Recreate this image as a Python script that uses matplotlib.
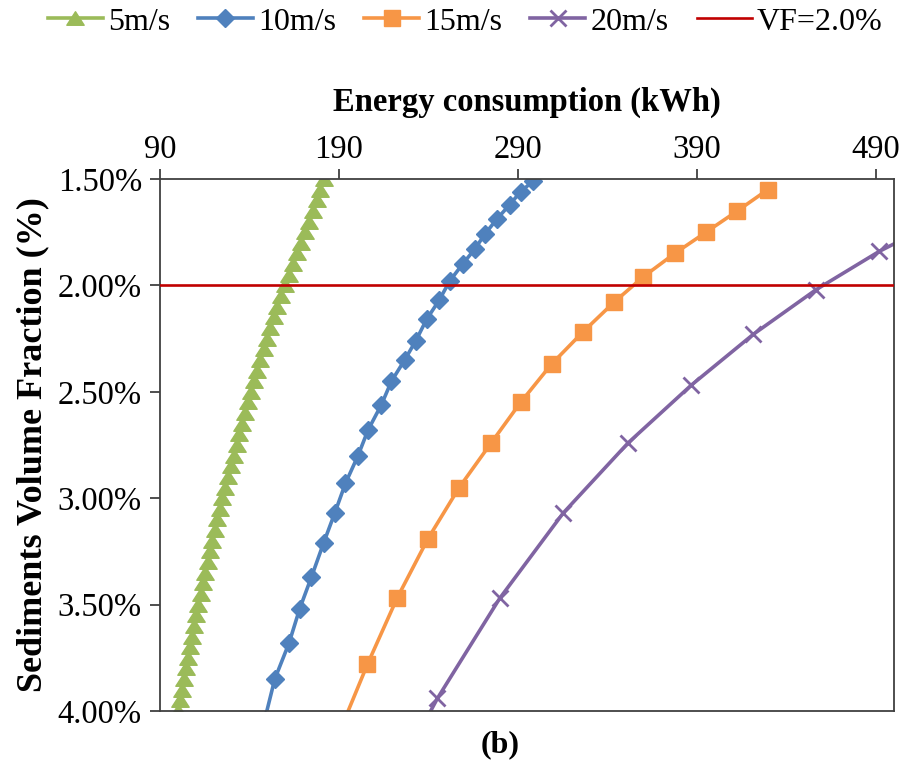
import matplotlib
matplotlib.use('Agg')
import matplotlib.pyplot as plt
from matplotlib.path import Path
from matplotlib.ticker import FuncFormatter

plt.rcParams['font.family'] = ['Liberation Serif', 'DejaVu Serif']

# Sediments volume fraction (%) and energy consumption (kWh)
vf_5 = [1.50, 1.55, 1.60, 1.65, 1.70, 1.75, 1.80, 1.85, 1.90, 1.95,
        2.00, 2.05, 2.10, 2.15, 2.20, 2.25, 2.30, 2.35, 2.40, 2.45,
        2.50, 2.55, 2.60, 2.65, 2.70, 2.75, 2.80, 2.85, 2.90, 2.95,
        3.00, 3.05, 3.10, 3.15, 3.20, 3.25, 3.30, 3.35, 3.40, 3.45,
        3.50, 3.55, 3.60, 3.65, 3.70, 3.75, 3.80, 3.85, 3.90, 3.95, 4.00]
e_5 = [181.5, 179.5, 177.5, 175.3, 173.1, 170.9, 168.6, 166.4, 164.1, 161.8,
       159.6, 157.6, 155.6, 153.6, 151.7, 149.8, 147.9, 146.1, 144.3, 142.6,
       140.9, 139.2, 137.6, 136.0, 134.4, 132.8, 131.2, 129.6, 128.0, 126.4,
       124.9, 123.5, 122.1, 120.7, 119.3, 118.0, 116.6, 115.3, 114.0, 112.7,
       111.4, 110.2, 109.0, 107.8, 106.6, 105.5, 104.4, 103.3, 102.3, 101.3, 100.3]

vf_10 = [1.51, 1.56, 1.62, 1.69, 1.76, 1.83, 1.90, 1.98, 2.07, 2.16, 2.26, 2.35,
         2.45, 2.56, 2.68, 2.80, 2.93, 3.07, 3.21, 3.37, 3.52, 3.68, 3.85, 4.04]
e_10 = [298.4, 291.4, 285.4, 278.0, 271.4, 265.8, 259.0, 251.8, 245.9, 238.9, 232.9, 226.7,
        219.3, 213.7, 206.2, 200.6, 193.6, 187.6, 181.4, 174.6, 168.0, 162.1, 154.1, 148.5]

vf_15 = [1.55, 1.65, 1.75, 1.85, 1.96, 2.08, 2.22, 2.37, 2.55, 2.74, 2.95, 3.19, 3.47, 3.78, 4.13]
e_15 = [429.5, 412.5, 395.0, 377.5, 359.9, 343.5, 326.1, 308.7, 291.4, 275.0, 257.1, 239.7, 222.4, 205.9, 188.7]

vf_20 = [1.69, 1.84, 2.02, 2.23, 2.47, 2.74, 3.07, 3.47, 3.94, 4.49]
e_20 = [527.0, 491.8, 456.5, 421.4, 386.6, 351.5, 315.2, 279.8, 245.0, 210.0]

vf_limit = 2.0

x_ticks = [90, 190, 290, 390, 490]
y_ticks = [1.5, 2.0, 2.5, 3.0, 3.5, 4.0]

green = '#9BBB59'
blue = '#4F81BD'
orange = '#F79646'
purple = '#8064A2'
red = '#C00000'

# wide, flat triangle like the Excel marker
tri = Path([(-1, -0.78), (1, -0.78), (0, 0.78), (-1, -0.78)],
           [Path.MOVETO, Path.LINETO, Path.LINETO, Path.CLOSEPOLY])

fig = plt.figure(figsize=(9.03, 7.62), dpi=100)
ax = fig.add_axes([0.1772, 0.0669, 0.8128, 0.6982])

ax.plot(e_5, vf_5, color=green, lw=2.6, marker=tri, ms=12.5, mfc=green, mec=green, label='5m/s')
ax.plot(e_10, vf_10, color=blue, lw=2.6, marker='D', ms=9.3, mfc=blue, mec=blue, label='10m/s')
ax.plot(e_15, vf_15, color=orange, lw=2.6, marker='s', ms=11, mfc=orange, mec=orange, label='15m/s')
ax.plot(e_20, vf_20, color=purple, lw=2.6, marker='x', ms=12, mew=2, label='20m/s')
ax.axhline(vf_limit, color=red, lw=1.9, label='VF=2.0%', zorder=5)

ax.set_xlim(90, 500)
ax.set_ylim(4.0, 1.5)
ax.set_xticks(x_ticks)
ax.set_yticks(y_ticks)
ax.yaxis.set_major_formatter(FuncFormatter(lambda v, p: '{:.2f}%'.format(v)))

ax.xaxis.tick_top()
ax.xaxis.set_label_position('top')
ax.tick_params(axis='x', which='major', direction='out', length=7, width=1.3,
               color='#404040', labelsize=23.5, pad=3)
ax.tick_params(axis='y', which='major', direction='out', length=7, width=1.3,
               color='#404040', labelsize=23.5, pad=6)
for s in ax.spines.values():
    s.set_color('#404040')
    s.set_linewidth(1.3)

ax.set_xlabel('Energy consumption (kWh)', fontsize=23.5, fontweight='bold', labelpad=17)
ax.set_ylabel('Sediments Volume Fraction (%)', fontsize=26, fontweight='bold', labelpad=6)

fig.legend(loc='center', bbox_to_anchor=(0.515, 1 - 22 / 762), ncol=5, frameon=False,
           borderaxespad=0, fontsize=23, handlelength=1.72, handletextpad=0.16,
           columnspacing=0.88)

fig.text(500 / 903, 1 - 745 / 762, '(b)', fontsize=23, fontweight='bold', ha='center', va='center')

plt.savefig('out.png', dpi=100)
